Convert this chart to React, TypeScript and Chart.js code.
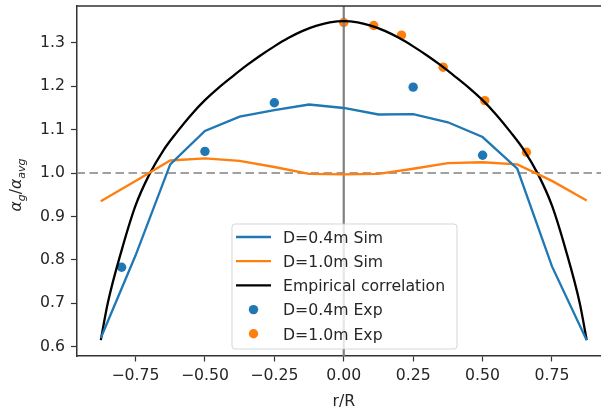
import { useEffect, useRef } from 'react';
import { Chart, registerables } from 'chart.js';

Chart.register(...registerables);

// ---- data ----
const simX = [-0.875, -0.75, -0.625, -0.5, -0.375, -0.25, -0.125, 0, 0.125, 0.25, 0.375, 0.5, 0.625, 0.75, 0.875];
const sim04 = [0.62, 0.81, 1.02, 1.097, 1.13, 1.145, 1.158, 1.15, 1.135, 1.136, 1.117, 1.083, 1.01, 0.785, 0.615];
const sim10 = [0.935, 0.982, 1.029, 1.034, 1.028, 1.014, 0.998, 0.997, 0.998, 1.01, 1.023, 1.025, 1.02, 0.982, 0.937];

const empX = [-0.875, -0.85, -0.8, -0.75, -0.7, -0.65, -0.6, -0.55, -0.5, -0.45, -0.4, -0.35, -0.3, -0.25, -0.2, -0.15, -0.1, -0.05, 0,
  0.05, 0.1, 0.15, 0.2, 0.25, 0.3, 0.35, 0.4, 0.45, 0.5, 0.55, 0.6, 0.65, 0.7, 0.75, 0.8, 0.85, 0.875];
const empY = [0.615, 0.7, 0.822, 0.925, 0.997, 1.052, 1.095, 1.134, 1.168, 1.197, 1.223, 1.248, 1.271, 1.292, 1.311, 1.327, 1.339, 1.347, 1.35,
  1.347, 1.339, 1.327, 1.311, 1.292, 1.271, 1.248, 1.223, 1.197, 1.168, 1.134, 1.095, 1.052, 0.997, 0.925, 0.822, 0.7, 0.615];

const exp04X = [-0.8, -0.5, -0.25, 0.25, 0.5];
const exp04Y = [0.783, 1.05, 1.162, 1.198, 1.041];
const exp10X = [0, 0.108, 0.208, 0.358, 0.508, 0.658];
const exp10Y = [1.347, 1.34, 1.318, 1.244, 1.167, 1.048];

const xTicks = [-0.75, -0.5, -0.25, 0, 0.25, 0.5, 0.75];
const yTicks = [0.6, 0.7, 0.8, 0.9, 1.0, 1.1, 1.2, 1.3];
const xRange = [-0.9625, 0.9625];
const yRange = [0.5785, 1.385];
const refY = 1.0;
const refX = 0;

const seriesLabels = ['D=0.4m Sim', 'D=1.0m Sim', 'Empirical correlation', 'D=0.4m Exp', 'D=1.0m Exp'];
const xTitle = 'r/R';

const BLUE = '#1f77b4';
const ORANGE = '#ff7f0e';
const BLACK = '#000000';
const TEXT = '#262626';
const FONT = '"DejaVu Sans", sans-serif';
const FS = 15.7;

const pts = (xs: number[], ys: number[]) => xs.map((x, i) => ({ x, y: ys[i] }));

const extrasPlugin = {
  id: 'extras',
  afterDatasetsDraw(chart: any) {
    const { ctx, chartArea: a } = chart;
    ctx.save();
    ctx.strokeStyle = '#333';
    ctx.lineWidth = 1.5;
    ctx.beginPath();
    ctx.moveTo(a.left, a.top);
    ctx.lineTo(a.right, a.top);
    ctx.lineTo(a.right, a.bottom);
    ctx.stroke();
    ctx.restore();
  },
  afterDraw(chart: any) {
    const { ctx, chartArea: a } = chart;
    // legend
    ctx.save();
    const bx = 232, by = 224, bw = 225, bh = 125, r = 3;
    ctx.beginPath();
    ctx.moveTo(bx + r, by);
    ctx.lineTo(bx + bw - r, by);
    ctx.arcTo(bx + bw, by, bx + bw, by + r, r);
    ctx.lineTo(bx + bw, by + bh - r);
    ctx.arcTo(bx + bw, by + bh, bx + bw - r, by + bh, r);
    ctx.lineTo(bx + r, by + bh);
    ctx.arcTo(bx, by + bh, bx, by + bh - r, r);
    ctx.lineTo(bx, by + r);
    ctx.arcTo(bx, by, bx + r, by, r);
    ctx.closePath();
    ctx.fillStyle = 'rgba(255,255,255,0.8)';
    ctx.fill();
    ctx.strokeStyle = 'rgba(204,204,204,0.8)';
    ctx.lineWidth = 1;
    ctx.stroke();

    const kinds = ['line', 'line', 'line', 'dot', 'dot'];
    const colors = [BLUE, ORANGE, BLACK, BLUE, ORANGE];
    const rowY0 = 237, rowDy = 24.2;
    const hx0 = 236, hx1 = 271, tx = 283;
    ctx.font = `${FS}px ${FONT}`;
    ctx.textBaseline = 'alphabetic';
    ctx.textAlign = 'left';
    seriesLabels.forEach((lab, i) => {
      const y = rowY0 + i * rowDy;
      if (kinds[i] === 'line') {
        ctx.strokeStyle = colors[i];
        ctx.lineWidth = 2.3;
        ctx.beginPath();
        ctx.moveTo(hx0, y);
        ctx.lineTo(hx1, y);
        ctx.stroke();
      } else {
        ctx.fillStyle = colors[i];
        ctx.beginPath();
        ctx.arc((hx0 + hx1) / 2, y, 4.7, 0, Math.PI * 2);
        ctx.fill();
      }
      ctx.fillStyle = TEXT;
      ctx.fillText(lab, tx, y + 5.7);
    });

    // x title
    ctx.textAlign = 'center';
    ctx.fillText(xTitle, (a.left + a.right) / 2, 405.5);

    // y title (math text) alpha_g / alpha_avg
    const small = 11;
    const parts = [
      { t: 'α', f: `italic ${FS}px ${FONT}`, dy: 0 },
      { t: 'g', f: `italic ${small}px ${FONT}`, dy: 3.6 },
      { t: '/', f: `${FS}px ${FONT}`, dy: 0 },
      { t: 'α', f: `italic ${FS}px ${FONT}`, dy: 0 },
      { t: 'avg', f: `italic ${small}px ${FONT}`, dy: 3.6 },
    ];
    let total = 0;
    const widths = parts.map((p) => {
      ctx.font = p.f;
      const w = ctx.measureText(p.t).width;
      total += w;
      return w;
    });
    ctx.translate(21, (a.top + a.bottom) / 2 + 4);
    ctx.rotate(-Math.PI / 2);
    ctx.textAlign = 'left';
    let cx = -total / 2;
    parts.forEach((p, i) => {
      ctx.font = p.f;
      ctx.fillText(p.t, cx, p.dy);
      cx += widths[i];
    });
    ctx.restore();
  },
};

export default function App() {
  const ref = useRef<HTMLCanvasElement>(null);
  useEffect(() => {
    if (!ref.current) return;
    const lineDs = (label: string, xs: number[], ys: number[], color: string, extra: any = {}) => ({
      label,
      data: pts(xs, ys),
      showLine: true,
      borderColor: color,
      backgroundColor: color,
      borderWidth: 2.3,
      pointRadius: 0,
      pointHoverRadius: 0,
      fill: false,
      tension: 0,
      order: 0,
      ...extra,
    });
    const dotDs = (label: string, xs: number[], ys: number[], color: string) => ({
      label,
      data: pts(xs, ys),
      showLine: false,
      backgroundColor: color,
      borderColor: color,
      borderWidth: 0,
      pointRadius: 4.7,
      pointHoverRadius: 4.7,
      order: 1,
    });
    const chart = new Chart(ref.current, {
      type: 'scatter',
      data: {
        datasets: [
          lineDs(seriesLabels[0], simX, sim04, BLUE),
          lineDs(seriesLabels[1], simX, sim10, ORANGE),
          lineDs(seriesLabels[2], empX, empY, BLACK, { cubicInterpolationMode: 'monotone' }),
          dotDs(seriesLabels[3], exp04X, exp04Y, BLUE),
          dotDs(seriesLabels[4], exp10X, exp10Y, ORANGE),
          lineDs('vline', [refX, refX], [yRange[0], yRange[1]], '#808080', { borderWidth: 2.2 }),
          lineDs('hline', [xRange[0], xRange[1]], [refY, refY], 'rgba(128,128,128,0.75)', { borderWidth: 2, borderDash: [8.5, 4.5] }),
        ] as any,
      },
      options: {
        animation: false,
        responsive: false,
        maintainAspectRatio: false,
        events: [],
        layout: { padding: { top: 6, right: 9, left: 0, bottom: 0 } },
        plugins: { legend: { display: false }, tooltip: { enabled: false } },
        scales: {
          x: {
            type: 'linear',
            min: xRange[0],
            max: xRange[1],
            afterBuildTicks: (s: any) => { s.ticks = xTicks.map((v) => ({ value: v })); },
            afterFit: (s: any) => { s.height = 52; s.paddingLeft = 0; s.paddingRight = 0; s.paddingTop = 0; s.paddingBottom = 0; },
            ticks: {
              autoSkip: false,
              maxRotation: 0,
              padding: 5,
              color: TEXT,
              font: { family: FONT, size: FS },
              callback: (v: any) => Number(v).toFixed(2).replace('-', '\u2212'),
            },
            grid: { display: true, drawOnChartArea: false, drawTicks: true, tickLength: 5.5, tickWidth: 1.2, tickColor: '#333' },
            border: { display: true, color: '#333', width: 1.5 },
          },
          y: {
            type: 'linear',
            min: yRange[0],
            max: yRange[1],
            afterBuildTicks: (s: any) => { s.ticks = yTicks.map((v) => ({ value: v })); },
            afterFit: (s: any) => { s.width = 76.5; s.paddingLeft = 0; s.paddingRight = 0; s.paddingTop = 0; s.paddingBottom = 0; },
            ticks: {
              autoSkip: false,
              padding: 6,
              color: TEXT,
              font: { family: FONT, size: FS },
              callback: (v: any) => Number(v).toFixed(1),
            },
            grid: { display: true, drawOnChartArea: false, drawTicks: true, tickLength: 5.5, tickWidth: 1.2, tickColor: '#333' },
            border: { display: true, color: '#333', width: 1.5 },
          },
        },
      } as any,
      plugins: [extrasPlugin],
    });
    return () => chart.destroy();
  }, []);
  return (
    <div style={{ position: 'fixed', left: 0, top: 0, width: 601, height: 408, overflow: 'hidden', background: '#fff' }}>
      <canvas ref={ref} width={620} height={408} style={{ display: 'block' }} />
    </div>
  );
}
